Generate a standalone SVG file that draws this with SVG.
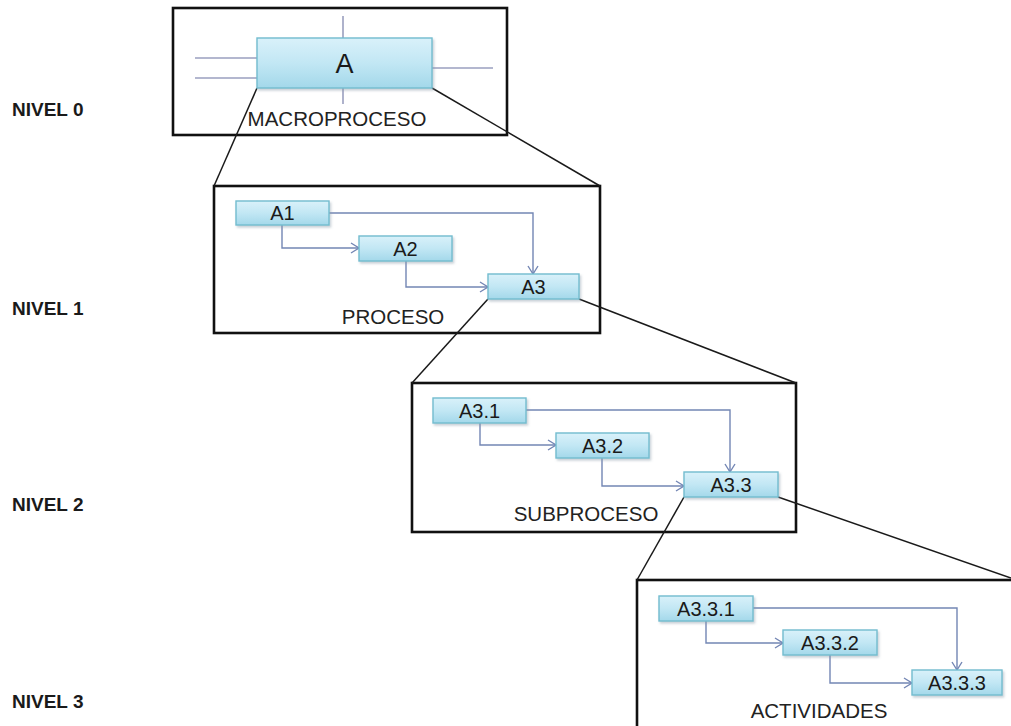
<svg xmlns="http://www.w3.org/2000/svg" width="1011" height="726" viewBox="0 0 1011 726">
  <style>
    .frame { fill: none; stroke: #111; stroke-width: 2.6; }
    .zoom { fill: none; stroke: #1a1a1a; stroke-width: 1.5; }
    .io { fill: none; stroke: #9a9fbf; stroke-width: 1.6; }
    .flow { fill: none; stroke: #7386b4; stroke-width: 1.4; marker-end: url(#arrow); }
    .box { fill: url(#boxFill); stroke: #72bccf; stroke-width: 1.4; filter: url(#shadow); }
    .nodeText { font-family: "Liberation Sans", Arial, sans-serif; font-size: 20px; fill: #1a1a1a; text-anchor: middle; }
    .bigText { font-family: "Liberation Sans", Arial, sans-serif; font-size: 27px; fill: #1a1a1a; text-anchor: middle; }
    .caption { font-family: "Liberation Sans", Arial, sans-serif; font-size: 20.5px; fill: #222; text-anchor: middle; }
    .level { font-family: "Liberation Sans", Arial, sans-serif; font-size: 19px; font-weight: bold; fill: #1a1a1a; }
  </style>
  <defs>
    <linearGradient id="boxFill" x1="0" y1="0" x2="0" y2="1">
      <stop offset="0" stop-color="#d9f1fa"/>
      <stop offset="0.5" stop-color="#c2e7f4"/>
      <stop offset="1" stop-color="#a3d8ea"/>
    </linearGradient>
    <filter id="shadow" x="-10%" y="-20%" width="130%" height="160%">
      <feDropShadow dx="1.5" dy="2" stdDeviation="1.2" flood-color="#8a9aa8" flood-opacity="0.45"/>
    </filter>
    <marker id="arrow" markerUnits="userSpaceOnUse" markerWidth="12" markerHeight="12" viewBox="0 0 12 12" refX="10" refY="6" orient="auto">
      <path d="M2,1 L10,6 L2,11" fill="none" stroke="#7386b4" stroke-width="1.4"/>
    </marker>
  </defs>

  <rect width="1011" height="726" fill="#ffffff"/>

  <!-- level labels -->
  <g id="levels">
    <text class="level" x="12" y="116">NIVEL 0</text>
    <text class="level" x="12" y="315">NIVEL 1</text>
    <text class="level" x="12" y="511">NIVEL 2</text>
    <text class="level" x="12" y="708">NIVEL 3</text>
  </g>

  <!-- level frames -->
  <g id="frames">
    <rect id="frame-macroproceso" class="frame" x="173" y="8" width="334" height="127"/>
    <rect id="frame-proceso" class="frame" x="214" y="186" width="386" height="147"/>
    <rect id="frame-subproceso" class="frame" x="412" y="383" width="384" height="149"/>
    <rect id="frame-actividades" class="frame" x="637" y="580" width="400" height="170"/>
  </g>

  <g id="connectors">
    <!-- zoom-out lines between levels -->
    <path class="zoom" d="M257,88 L214,186"/>
    <path class="zoom" d="M432,88 L600,186"/>
    <path class="zoom" d="M488,299 L412,383"/>
    <path class="zoom" d="M579,299 L796,383"/>
    <path class="zoom" d="M684,497 L637,580"/>
    <path class="zoom" d="M778,497 L1011,578"/>

    <!-- inputs / outputs of the macroprocess -->
    <path class="io" d="M195,58 H257"/>
    <path class="io" d="M195,78 H257"/>
    <path class="io" d="M432,68 H493"/>
    <path class="io" d="M343,16 V38"/>
    <path class="io" d="M343,88 V104"/>

    <!-- proceso flows -->
    <path class="flow" d="M329,213 H533 V274"/>
    <path class="flow" d="M282,225 V248 H359"/>
    <path class="flow" d="M406,261 V287 H488"/>

    <!-- subproceso flows -->
    <path class="flow" d="M526,410 H730 V472"/>
    <path class="flow" d="M480,423 V445 H556"/>
    <path class="flow" d="M602,458 V486 H684"/>

    <!-- actividades flows -->
    <path class="flow" d="M753,608 H957 V670"/>
    <path class="flow" d="M706,621 V643 H783"/>
    <path class="flow" d="M830,655 V683 H912"/>
  </g>

  <!-- nivel 0 -->
  <g id="node-A">
    <rect class="box" x="257" y="38" width="175" height="50"/>
    <text class="bigText" x="344.5" y="73">A</text>
  </g>
  <text class="caption" x="337" y="126">MACROPROCESO</text>

  <!-- nivel 1 -->
  <g id="node-A1">
    <rect class="box" x="236" y="201" width="93" height="24"/>
    <text class="nodeText" x="282.5" y="220">A1</text>
  </g>
  <g id="node-A2">
    <rect class="box" x="359" y="236" width="93" height="25"/>
    <text class="nodeText" x="405.5" y="256">A2</text>
  </g>
  <g id="node-A3">
    <rect class="box" x="488" y="274" width="91" height="25"/>
    <text class="nodeText" x="533.5" y="294">A3</text>
  </g>
  <text class="caption" x="393" y="324">PROCESO</text>

  <!-- nivel 2 -->
  <g id="node-A3-1">
    <rect class="box" x="433" y="398" width="93" height="25"/>
    <text class="nodeText" x="479.5" y="418">A3.1</text>
  </g>
  <g id="node-A3-2">
    <rect class="box" x="556" y="433" width="93" height="25"/>
    <text class="nodeText" x="602.5" y="453">A3.2</text>
  </g>
  <g id="node-A3-3">
    <rect class="box" x="684" y="472" width="94" height="25"/>
    <text class="nodeText" x="731" y="492">A3.3</text>
  </g>
  <text class="caption" x="586" y="521">SUBPROCESO</text>

  <!-- nivel 3 -->
  <g id="node-A3-3-1">
    <rect class="box" x="659" y="596" width="94" height="25"/>
    <text class="nodeText" x="706" y="616">A3.3.1</text>
  </g>
  <g id="node-A3-3-2">
    <rect class="box" x="783" y="630" width="94" height="25"/>
    <text class="nodeText" x="830" y="650">A3.3.2</text>
  </g>
  <g id="node-A3-3-3">
    <rect class="box" x="912" y="670" width="90" height="25"/>
    <text class="nodeText" x="957" y="690">A3.3.3</text>
  </g>
  <text class="caption" x="819" y="718">ACTIVIDADES</text>
</svg>
